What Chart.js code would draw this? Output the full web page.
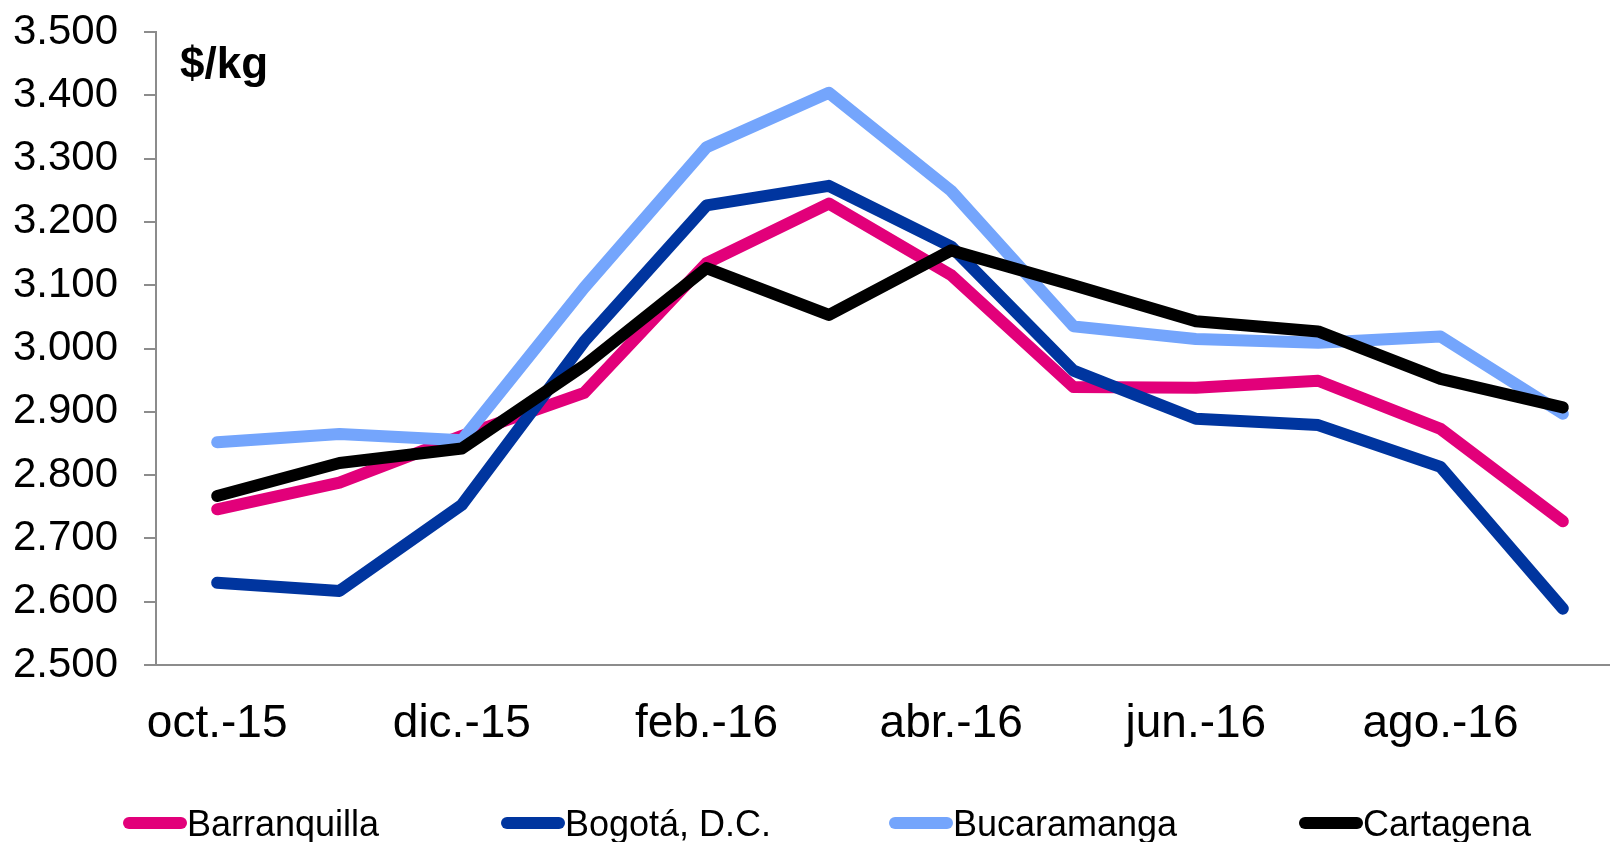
<!DOCTYPE html>
<html>
<head>
<meta charset="utf-8">
<script src="https://cdn.jsdelivr.net/npm/chart.js@4.4.1/dist/chart.umd.min.js"></script>
<style>
  html, body { margin: 0; padding: 0; background: #fff; overflow: hidden; }
  #wrap { position: relative; width: 1624px; height: 842px; }
</style>
</head>
<body>
<div id="wrap"><canvas id="chart"></canvas></div>
<script>
// Months (every other one gets a label on the axis)
const months = ["oct.-15", "nov.-15", "dic.-15", "ene.-16", "feb.-16", "mar.-16",
                "abr.-16", "may.-16", "jun.-16", "jul.-16", "ago.-16", "sep.-16"];

// Prices in $/kg
const barranquilla = [2746, 2788, 2862, 2930, 3135, 3229, 3116, 2939, 2938, 2949, 2873, 2727];
const bogota       = [2630, 2617, 2753, 3011, 3226, 3257, 3161, 2965, 2889, 2879, 2813, 2589];
const bucaramanga  = [2852, 2865, 2855, 3096, 3318, 3404, 3249, 3035, 3015, 3009, 3019, 2897];
const cartagena    = [2767, 2819, 2842, 2973, 3127, 3053, 3155, 3100, 3043, 3027, 2952, 2907];

const yMin = 2500, yMax = 3500, yStep = 100;

const axisGray = "#8c8c8c";

function line(label, data, color, order) {
  return {
    label: label,
    data: data,
    borderColor: color,
    backgroundColor: color,
    borderWidth: 12,
    borderCapStyle: "round",
    borderJoinStyle: "round",
    pointRadius: 0,
    tension: 0,
    order: order
  };
}

// Unit title + legend row drawn on the canvas
const extras = {
  id: "extras",
  afterDraw(chart) {
    const ctx = chart.ctx;
    ctx.save();
    ctx.fillStyle = "#000";
    ctx.font = "bold 44px 'Liberation Sans', Arial, sans-serif";
    ctx.textBaseline = "alphabetic";
    ctx.fillText("$/kg", 180, 78);

    const xs = [123, 501, 889, 1299];
    ctx.font = "36px 'Liberation Sans', Arial, sans-serif";
    chart.data.datasets.forEach((ds, i) => {
      const x = xs[i];
      ctx.strokeStyle = ds.borderColor;
      ctx.lineWidth = 12;
      ctx.lineCap = "round";
      ctx.beginPath();
      ctx.moveTo(x + 6, 823);
      ctx.lineTo(x + 58, 823);
      ctx.stroke();
      ctx.fillStyle = "#000";
      ctx.fillText(ds.label, x + 64, 836);
    });
    ctx.restore();
  }
};

new Chart(document.getElementById("chart"), {
  type: "line",
  data: {
    labels: months,
    datasets: [
      line("Barranquilla", barranquilla, "#e2007a", 4),
      line("Bogotá, D.C.", bogota, "#00359f", 3),
      line("Bucaramanga", bucaramanga, "#74a5fc", 2),
      line("Cartagena", cartagena, "#000000", 1)
    ]
  },
  options: {
    responsive: true,
    maintainAspectRatio: false,
    animation: false,
    layout: { padding: { top: 32, right: 0, bottom: 0, left: 0 } },
    plugins: {
      legend: { display: false },
      tooltip: { enabled: false }
    },
    scales: {
      x: {
        offset: true,
        grid: { display: false, drawTicks: false },
        border: { display: true, color: axisGray, width: 2 },
        afterFit(s) { s.height = 842 - 665; },
        ticks: {
          autoSkip: false,
          maxRotation: 0,
          padding: 32,
          color: "#000",
          font: { family: "'Liberation Sans', Arial, sans-serif", size: 46 },
          callback: function (v, i) { return i % 2 === 0 ? months[i] : ""; }
        }
      },
      y: {
        min: yMin,
        max: yMax,
        grid: { display: true, drawOnChartArea: false, drawTicks: true, tickLength: 12, color: axisGray, lineWidth: 2 },
        border: { display: true, color: axisGray, width: 2 },
        afterFit(s) { s.width = 156; s.paddingTop = 0; s.paddingBottom = 0; },
        ticks: {
          stepSize: yStep,
          padding: 26,
          color: "#000",
          font: { family: "'Liberation Sans', Arial, sans-serif", size: 42 },
          callback: function (v) { return (v / 1000).toFixed(3); }
        }
      }
    }
  },
  plugins: [extras]
});
</script>
</body>
</html>
